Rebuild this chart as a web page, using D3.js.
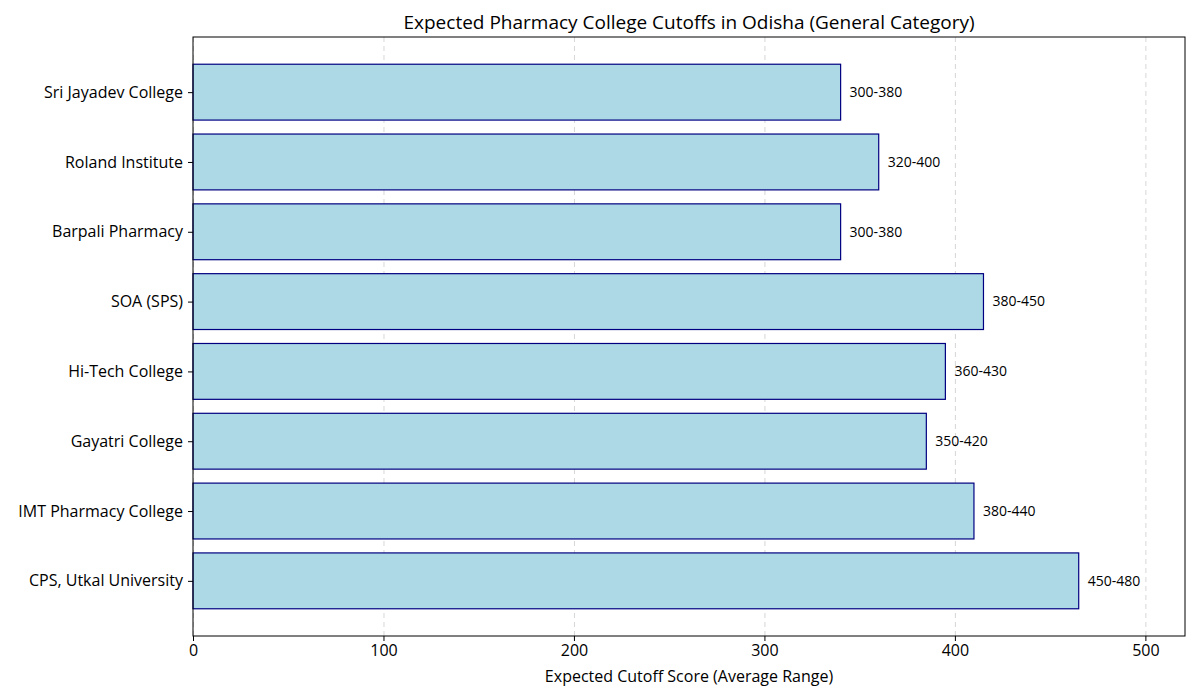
<!DOCTYPE html>
<html>
<head>
<meta charset="utf-8">
<script src="https://cdn.jsdelivr.net/npm/d3@7"></script>
<style>
  body { margin: 0; background: #fff; }
  svg, svg text { font-family: "Open Sans", Roboto, sans-serif; }
  .grid line { stroke: #cccccc; stroke-dasharray: 5,4; stroke-width: 0.8; }
  .grid path { display: none; }
</style>
</head>
<body>
<div id="chart"></div>
<script>
const colleges = ["Sri Jayadev College", "Roland Institute", "Barpali Pharmacy", "SOA (SPS)",
  "Hi-Tech College", "Gayatri College", "IMT Pharmacy College", "CPS, Utkal University"];
const cutoffs = [340, 360, 340, 415, 395, 385, 410, 465];
const ranges = ["300-380", "320-400", "300-380", "380-450", "360-430", "350-420", "380-440", "450-480"];
const xTicks = [0, 100, 200, 300, 400, 500];

const width = 1200, height = 700;
const margin = { top: 37, right: 15, bottom: 64, left: 193 };
const iw = width - margin.left - margin.right;
const ih = height - margin.top - margin.bottom;

const svg = d3.select("#chart").append("svg")
    .attr("width", width)
    .attr("height", height);

const g = svg.append("g").attr("transform", `translate(${margin.left},${margin.top})`);

const x = d3.scaleLinear().domain([0, d3.max(cutoffs) * 1.12]).range([0, iw]);
// matplotlib-like: bars height 0.8, 5% margin
const n = colleges.length;
const y = d3.scaleLinear().domain([-0.4 - 0.39, n - 1 + 0.4 + 0.39]).range([0, ih]);

// grid
g.append("g")
    .attr("class", "grid")
    .attr("transform", `translate(0,${ih})`)
    .call(d3.axisBottom(x).tickValues(xTicks).tickSize(-ih).tickFormat(""));

// bars
g.selectAll("rect.bar")
    .data(cutoffs)
    .enter().append("rect")
    .attr("class", "bar")
    .attr("x", x(0))
    .attr("y", (d, i) => y(i - 0.4))
    .attr("width", d => x(d) - x(0))
    .attr("height", y(0.4) - y(-0.4))
    .attr("fill", "#add8e6")
    .attr("stroke", "navy")
    .attr("stroke-width", 1.2);

// value labels
g.selectAll("text.val")
    .data(cutoffs)
    .enter().append("text")
    .attr("class", "val")
    .attr("x", d => x(d) + 9)
    .attr("y", (d, i) => y(i))
    .attr("dy", "0.35em")
    .attr("font-size", 14)
    .attr("fill", "#000")
    .text((d, i) => ranges[i]);

// frame
g.append("rect")
    .attr("width", iw).attr("height", ih)
    .attr("fill", "none").attr("stroke", "#000").attr("stroke-width", 1);

// x axis
const xAxis = g.append("g")
    .attr("transform", `translate(0,${ih})`)
    .call(d3.axisBottom(x).tickValues(xTicks).tickSize(5).tickPadding(4).tickFormat(d3.format("d")));
xAxis.attr("font-family", null);
xAxis.select(".domain").remove();
xAxis.selectAll("text").attr("font-size", 16).attr("fill", "#000");
xAxis.selectAll("line").attr("stroke", "#000");

// y axis
const yAxis = g.append("g")
    .call(d3.axisLeft(y).tickValues(d3.range(n)).tickSize(5).tickPadding(5).tickFormat(i => colleges[i]));
yAxis.attr("font-family", null);
yAxis.select(".domain").remove();
yAxis.selectAll("text").attr("font-size", 16).attr("fill", "#000");
yAxis.selectAll("line").attr("stroke", "#000");

// title
svg.append("text")
    .attr("x", margin.left + iw / 2)
    .attr("y", 29)
    .attr("text-anchor", "middle")
    .attr("font-size", 19)
    .text("Expected Pharmacy College Cutoffs in Odisha (General Category)");

// x label
svg.append("text")
    .attr("x", margin.left + iw / 2)
    .attr("y", 682)
    .attr("text-anchor", "middle")
    .attr("font-size", 16)
    .text("Expected Cutoff Score (Average Range)");
</script>
</body>
</html>
